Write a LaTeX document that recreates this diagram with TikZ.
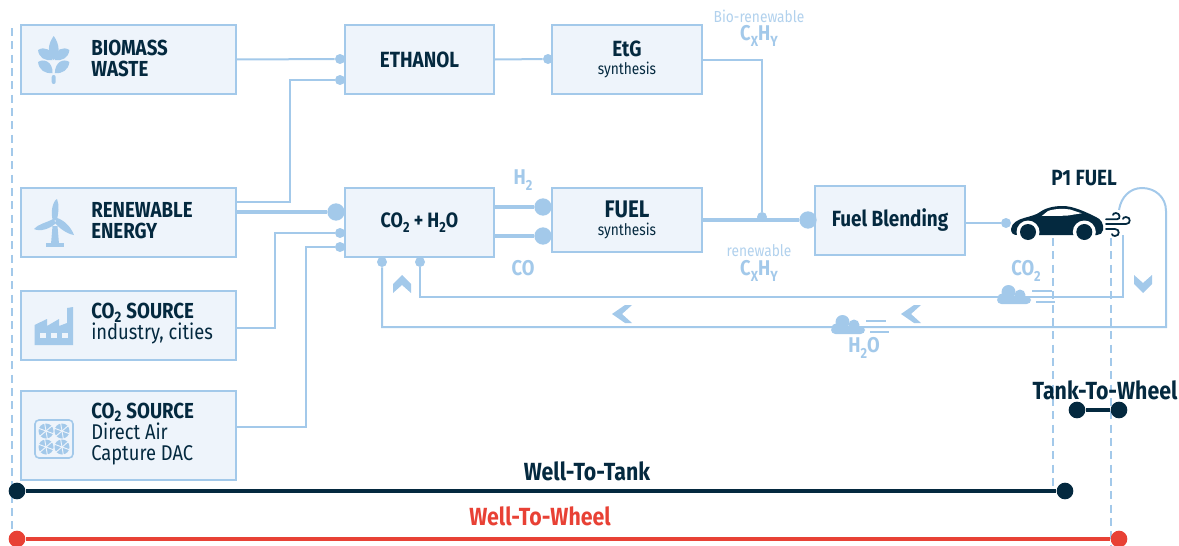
\documentclass[tikz,border=0pt]{standalone}
\usepackage{fontspec}
\setmainfont[FakeStretch=0.86]{Fira Sans}
\usetikzlibrary{positioning,calc}
\definecolor{lightblue}{HTML}{A3C9EA}
\definecolor{boxfill}{HTML}{EEF4FB}
\definecolor{navy}{HTML}{04293F}
\definecolor{redline}{HTML}{E84135}
\newcommand{\dn}[1]{\raisebox{-0.5ex}{\fontsize{11}{11}\selectfont #1}}
\newcommand{\thinline}{\normalfont\fontsize{16}{15.5}\selectfont}
\tikzset{
    cloudicon/.pic={
        \fill[lightblue, rounded corners=3.2pt] (-1,1) rectangle (33,9);
        \fill[lightblue] (10.5,-3) circle (7);
        \fill[lightblue] (22,0) circle (5.5);
        \fill[lightblue] (4,3) circle (4.5);
        \draw[lightblue, line width=1pt] (34,-4) -- (54,-4) (38,7) -- (57,7);
    },
    fanicon/.pic={
        \fill[lightblue] (0,0) circle (7.5);
        \foreach \a in {20,80,...,320}
            \draw[boxfill, line width=0.7pt] (0,0) -- (\a:8);
    },
    leaf/.pic={
        \fill[lightblue] (0,0) .. controls (-7,-5) and (-6,-16) .. (0,-24)
            .. controls (6,-16) and (7,-5) .. (0,0) -- cycle;
    }
}
\begin{document}
\begin{tikzpicture}[
    x=0.75pt, y=-0.75pt,
    box/.style={draw=lightblue, line width=1.5pt, fill=boxfill, minimum width=161pt, minimum height=52pt, inner sep=0pt},
    midbox/.style={box, minimum width=112pt, align=center, font=\fontsize{16.5}{16}\selectfont\bfseries, text=navy},
    lbl/.style={anchor=west, align=left, inner sep=0pt, text=navy, font=\fontsize{16.3}{15.75}\selectfont\bfseries},
    conn/.style={draw=lightblue, line width=1.5pt},
    fat/.style={draw=lightblue, line width=3pt},
    dot/.style={circle, fill=lightblue, inner sep=0pt, minimum size=7.5pt},
    bigdot/.style={circle, fill=lightblue, inner sep=0pt, minimum size=13pt},
    guide/.style={draw=lightblue, line width=1.1pt, dash pattern=on 6pt off 4pt},
    note/.style={text=lightblue, font=\fontsize{16}{16}\selectfont\bfseries},
    small/.style={text=lightblue!85, font=\fontsize{12}{12}\selectfont},
    chev/.style={fill=lightblue, draw=none},
    rangelbl/.style={text=navy, font=\fontsize{18.6}{18}\selectfont\bfseries},
    endblue/.style={circle, fill=navy, inner sep=0pt, minimum size=12.5pt},
    endred/.style={circle, fill=redline, inner sep=0pt, minimum size=12.5pt}
]
\useasboundingbox (0,0) rectangle (1179,546);

% --- guides ---
\coordinate (g1t) at (12,28);
\coordinate (g1b) at (12,546);
\coordinate (g2t) at (1053,238);
\coordinate (g2b) at (1053,491);
\coordinate (g3t) at (1111,238);
\coordinate (g3b) at (1111,546);
\draw[guide] (g1t) -- (g1b);
\draw[guide] (g2t) -- (g2b);
\draw[guide] (g3t) -- (g3b);

% --- Left column ---
\node[box] (biomass)   at (128.5,59.5) {};
\node[box] (renewable) at (128.5,222.5) {};
\node[box] (industry)  at (128.5,325.5) {};
\node[box, minimum height=66.5pt] (dac) at (128.5,435.5) {};

\node[lbl] (biomasstxt) at (91,58) {BIOMASS\\WASTE};
\node[lbl] (renewtxt)   at (91,221) {RENEWABLE\\ENERGY};
\node[lbl] (industrytxt) at (91,324) {CO\textsubscript{2} SOURCE\\{\thinline industry, cities}};
\node[lbl] (dactxt)     at (91,434) {CO\textsubscript{2} SOURCE\\{\thinline Direct Air}\\{\thinline Capture DAC}};

% --- Icons ---
\pic at (53.7,60) {leaf};
\fill[lightblue] (38,50) .. controls (44,46) and (53,49) .. (52.5,60) .. controls (45,61) and (39,58) .. (38,50);
\fill[lightblue] (69.4,50) .. controls (63.4,46) and (54.9,49) .. (54.9,60) .. controls (62.4,61) and (68.4,58) .. (69.4,50);
\fill[lightblue] (38,62) .. controls (44,58) and (53,62) .. (52.5,73) .. controls (45,74) and (39,70) .. (38,62);
\fill[lightblue] (69.4,62) .. controls (63.4,58) and (54.9,62) .. (54.9,73) .. controls (62.4,74) and (68.4,70) .. (69.4,62);
\fill[lightblue, rounded corners=1.5pt] (51.7,75) rectangle (55.7,84);

\fill[lightblue] (52.5,226) -- (57.5,226) -- (59,244) -- (51,244) -- cycle;
\fill[lightblue] (46,243) rectangle (64,247);
\fill[lightblue] (53,221) .. controls (50,212) and (53,201) .. (57,199) .. controls (60,206) and (58,214) .. (57,220) -- cycle;
\fill[lightblue] (53,219) .. controls (46,223) and (38,224) .. (34,229) .. controls (40,232) and (50,229) .. (56,223) -- cycle;
\fill[lightblue] (57,218) .. controls (64,220) and (71,227) .. (74,235) .. controls (67,234) and (59,228) .. (55,223) -- cycle;

\fill[lightblue] (34.5,325) -- (47,319) -- (47,326) -- (59,319) -- (59,326) -- (67,323) -- (67,308) -- (73,307) -- (73,345) -- (34.5,345) -- cycle;
\foreach \wx in {40,51,62}
    \fill[boxfill] (\wx,333) rectangle ++(6,5);

\draw[lightblue, line width=1.2pt, rounded corners=3pt] (35,420) rectangle (73,458);
\foreach \fx/\fy in {46/431,62/431,46/447,62/447}
    \pic at (\fx,\fy) {fanicon};

% --- Process boxes ---
\node[midbox] (ethanol) at (419.5,59.5) {ETHANOL};
\node[midbox] (etg)     at (627,59.5) {EtG\\[-3pt]{\normalfont\fontsize{12}{12}\selectfont synthesis}};
\node[midbox, font=\fontsize{15.6}{16}\selectfont\bfseries] (co2h2o) at (419.5,222.5) {CO\dn{2} + H\dn{2}O};
\node[midbox, font=\fontsize{18}{17}\selectfont\bfseries, minimum height=48pt] (fuel) at (627,220) {FUEL\\[-4pt]{\normalfont\fontsize{12}{12}\selectfont synthesis}};
\node[midbox] (blend)   at (890,220.5) {Fuel Blending};

% --- Dots ---
\node[dot] (d1) at (340,59) {};
\node[dot] (d2) at (340,80) {};
\node[bigdot] (d3) at (336,212) {};
\node[dot] (d4) at (340,233) {};
\node[dot] (d5) at (340,247) {};
\node[dot] (d6) at (382,262) {};
\node[dot] (d7) at (420,262) {};
\node[dot] (d8) at (548,59) {};
\node[bigdot] (d9) at (543,207) {};
\node[bigdot] (d10) at (543,236) {};
\node[dot] (d11) at (762,217) {};
\node[bigdot] (d12) at (808,220) {};
\node[dot] (d13) at (1006,223) {};

% --- Connections ---
\draw[conn] (biomass.east) -- (d1);
\draw[conn] (renewable.east |- 0,202) -| (290,80) -- (d2);
\draw[fat] (renewable.east |- d3) -- (d3);
\draw[conn] (industry.east |- 0,328) -| (275,233) -- (d4);
\draw[conn] (dac.east |- 0,427) -| (306,247) -- (d5);
\draw[conn] (ethanol.east) -- (d8);
\draw[conn] (etg.east) -| (d11);
\draw[fat] (co2h2o.east |- d9) -- (d9);
\draw[fat] (co2h2o.east |- d10) -- (d10);
\draw[fat] (fuel.east |- d12) -- (d12);
\draw[conn] (blend.east |- d13) -- (d13);

% --- Return lines ---
\coordinate (ret1) at (1123,235);
\coordinate (ret2) at (1119,210);
\draw[conn] (ret1) -- (1123,297) -| (d7);
\draw[conn] (ret2) .. controls (1121,197) and (1130,188) .. (1142,188)
    .. controls (1155,188) and (1166,197) .. (1166,211) -- (1166,327) -| (d6);

% --- Clouds ---
\pic at (998,295) {cloudicon};
\pic at (832,325) {cloudicon};

% --- Car ---
\fill[navy] (1011,229) .. controls (1012,223) and (1017,220) .. (1024,218)
    .. controls (1031,216) and (1036,215) .. (1040,212)
    .. controls (1047,207) and (1056,206) .. (1063,206)
    .. controls (1073,206) and (1086,212) .. (1096,217)
    .. controls (1101,219) and (1104,224) .. (1103,230)
    .. controls (1103,233) and (1100,235) .. (1097,235)
    -- (1017,235) .. controls (1013,235) and (1011,233) .. (1011,229) -- cycle;
\fill[white] (1041.7,216) -- (1048,211) .. controls (1055,208.5) and (1064,208.5) .. (1070,209.5)
    -- (1081.7,213.3) -- (1066.7,215.7) -- cycle;
\fill[white] (1028,232) circle (11.5);
\fill[white] (1084.3,232) circle (11.5);
\fill[navy] (1028,232) circle (8);
\fill[navy] (1084.3,232) circle (8);

% --- Wind ---
\draw[navy, line width=1.3pt, line cap=round] (1106,219.3) -- (1117,219.3)
    .. controls (1121,219.3) and (1120,213) .. (1116,213) .. controls (1114,213) and (1113,214) .. (1113,215);
\draw[navy, line width=1.3pt, line cap=round] (1106,224) -- (1126,224)
    .. controls (1131,224) and (1131,217) .. (1126,217) .. controls (1124,217) and (1123,218) .. (1123,219);
\draw[navy, line width=1.3pt, line cap=round] (1106,229) -- (1115,229)
    .. controls (1120,229) and (1120,236) .. (1115,236) .. controls (1113,236) and (1112,235) .. (1112,234);

% --- Chevrons ---
\fill[chev] (393,293) -- (402,285) -- (411,293) -- (411,284) -- (402,275) -- (393,284) -- cycle;
\fill[chev] (632,305) -- (622,314) -- (632,323) -- (625,323) -- (612,314) -- (625,305) -- cycle;
\fill[chev] (921,305) -- (911,314) -- (921,323) -- (914,323) -- (901,314) -- (914,305) -- cycle;
\fill[chev] (1134,275) -- (1143,283) -- (1152,275) -- (1152,284) -- (1143,293) -- (1134,284) -- cycle;

% --- Labels ---
\node[note] (h2lbl) at (523,180) {H\dn{2}};
\node[note] (colbl) at (523,268) {CO};
\node[small] (biolbl) at (759,16) {Bio-renewable};
\node[note] (cxhy1) at (759,36) {C\dn{X}H\dn{Y}};
\node[small] (renlbl) at (759,251) {renewable};
\node[note] (cxhy2) at (759,271) {C\dn{X}H\dn{Y}};
\node[note] (co2lbl) at (1026,271) {CO\dn{2}};
\node[note] (h2olbl) at (864,348) {H\dn{2}O};

\node[text=navy, font=\fontsize{16.5}{16}\selectfont\bfseries] (fuellbl) at (1084,178) {P1 FUEL};
\node[rangelbl] (wttlbl) at (587,471) {Well-To-Tank};
\node[rangelbl, text=redline] (wtwlbl) at (540,516) {Well-To-Wheel};
\node[rangelbl] (ttwlbl) at (1105,390) {Tank-To-Wheel};

% --- Range bars ---
\node[endblue] (wt1) at (17,491) {};
\node[endblue] (wt2) at (1065,491) {};
\node[endred] (ww1) at (17,539) {};
\node[endred] (ww2) at (1119,539) {};
\node[endblue] (tw1) at (1077,410) {};
\node[endblue] (tw2) at (1119,410) {};
\draw[navy, line width=2.5pt] (wt1) -- (wt2);
\draw[redline, line width=2.5pt] (ww1) -- (ww2);
\draw[navy, line width=2.5pt] (tw1) -- (tw2);
\end{tikzpicture}
\end{document}
